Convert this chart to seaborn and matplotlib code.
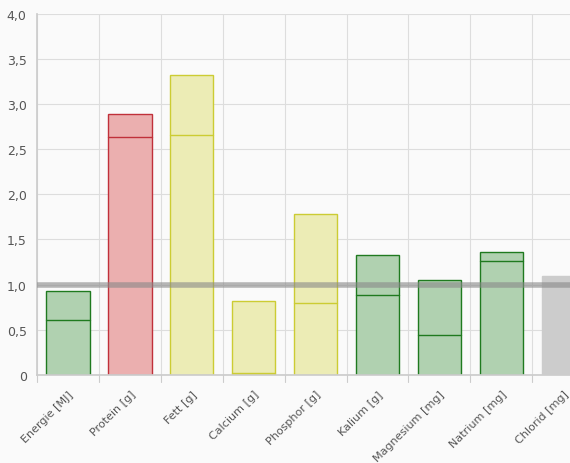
import matplotlib
matplotlib.use("Agg")
import matplotlib.pyplot as plt
import seaborn as sns
import pandas as pd

categories = ["Energie [MJ]", "Protein [g]", "Fett [g]", "Calcium [g]", "Phosphor [g]",
              "Kalium [g]", "Magnesium [mg]", "Natrium [mg]", "Chlorid [mg]"]
totals = [0.93, 2.89, 3.32, 0.82, 1.78, 1.33, 1.05, 1.36, 1.09]
inner = [0.61, 2.63, 2.66, 0.02, 0.80, 0.89, 0.44, 1.26, 0.88]
status = ["ok", "high", "warn", "warn", "warn", "ok", "ok", "ok", "none"]

fills = {"ok": "#b0d1b0", "high": "#ebafaf", "warn": "#ececb5", "none": "#cccccc"}
edges = {"ok": "#1f7a1f", "high": "#c0303a", "warn": "#cccc33", "none": "#cccccc"}

sns.set_theme(style="white")
plt.rcParams['font.family'] = ['DejaVu Sans']
df = pd.DataFrame({"cat": categories, "total": totals, "inner": inner})

fig = plt.figure(figsize=(5.7, 4.64), dpi=100)
fig.patch.set_facecolor("#fafafa")
ax = fig.add_axes([0.065, 0.19, 0.935, 0.778])
ax.set_facecolor("#fafafa")

sns.barplot(data=df, x="cat", y="total", ax=ax, width=0.7, color="#cccccc", zorder=2)
for i, p in enumerate(ax.patches):
    s = status[i]
    p.set_facecolor(fills[s]); p.set_edgecolor(edges[s]); p.set_linewidth(1.0)
    x0 = p.get_x(); w = p.get_width()
    ax.plot([x0, x0 + w], [inner[i], inner[i]], color=edges[s],
            lw=1.0, alpha=0.5 if s == "none" else 1, zorder=3)

ax.axhline(1.0, color="#888888", lw=4, alpha=0.6, zorder=4)
ax.set_xlim(-0.5, 8.11)
ax.set_ylim(0, 4.0)
ax.set_yticks([0, 0.5, 1, 1.5, 2, 2.5, 3, 3.5, 4])
ax.set_yticklabels(["0", "0,5", "1,0", "1,5", "2,0", "2,5", "3,0", "3,5", "4,0"], fontsize=9, color="#555555")
ax.set_xticks(range(len(categories)))
ax.set_xticklabels(categories, rotation=45, ha="right", rotation_mode="anchor", fontsize=8, color="#555555")
ax.tick_params(axis="x", length=0, pad=10)
ax.tick_params(axis="y", length=4, color="#cccccc")
for b in [i + 0.5 for i in range(-1, 8)]:
    ax.axvline(b, color="#dddddd", lw=0.8, zorder=0)
    ax.plot([b, b], [0, -0.08], color="#cccccc", lw=0.8, clip_on=False)
ax.yaxis.grid(True, color="#dddddd", lw=0.8, zorder=0)
ax.set_axisbelow(True)
for sp in ["top", "right"]:
    ax.spines[sp].set_visible(False)
ax.spines["left"].set_color("#cccccc")
ax.spines["bottom"].set_color("#cccccc")
ax.set_xlabel(""); ax.set_ylabel("")
fig.savefig("out.png", dpi=100, facecolor=fig.get_facecolor())
